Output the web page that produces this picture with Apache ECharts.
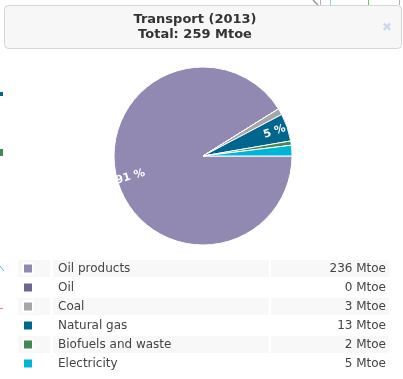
<!DOCTYPE html>
<html><head><meta charset="utf-8">
<script src="https://cdn.jsdelivr.net/npm/echarts@6/dist/echarts.min.js"></script>
<style>html,body{margin:0;padding:0;background:#fff}#c{width:403px;height:379px}</style>
</head><body><div id="c"></div>
<script>
const titleLines = ['Transport (2013)', 'Total: 259 Mtoe'];
const categories = ['Oil products', 'Oil', 'Coal', 'Natural gas', 'Biofuels and waste', 'Electricity'];
const values = [236, 0, 3, 13, 2, 5];
const unit = 'Mtoe';
const colors = ['#9189b1', '#6e6692', '#a6a6a6', '#00668e', '#438952', '#00b4d5'];

const FONT = '"DejaVu Sans", Verdana, sans-serif';
const total = values.reduce((a, b) => a + b, 0);
const data = categories.map((c, i) => ({ name: c, value: values[i], itemStyle: { color: colors[i] } }));
const valueOf = {};
categories.forEach((c, i) => valueOf[c] = values[i]);

const rowTop = 260, rowPitch = 19, rowH = 17;
const graphics = [
  { type: 'rect', shape: { x: 4.5, y: 5.5, width: 397, height: 43, r: 4 }, style: { fill: '#f7f7f7', stroke: '#d6d6d6', lineWidth: 1 }, z: 0 },
  { type: 'text', x: 195, y: 20, style: { text: titleLines[0], font: 'bold 13px ' + FONT, fill: '#333', textAlign: 'center', textVerticalAlign: 'middle' }, z: 1 },
  { type: 'text', x: 195, y: 35, style: { text: titleLines[1], font: 'bold 13px ' + FONT, fill: '#333', textAlign: 'center', textVerticalAlign: 'middle' }, z: 1 },
  { type: 'text', x: 387, y: 28, style: { text: '\u2716', font: '12px ' + FONT, fill: '#cdd9ec', textAlign: 'center', textVerticalAlign: 'middle' }, z: 1 },
  // background chart fragments
  { type: 'line', shape: { x1: 313, y1: 0, x2: 318, y2: 5 }, style: { stroke: '#999', lineWidth: 1.5 } },
  { type: 'line', shape: { x1: 320.5, y1: 0, x2: 320.5, y2: 5 }, style: { stroke: '#b0aacb', lineWidth: 1 } },
  { type: 'line', shape: { x1: 330.5, y1: 0, x2: 330.5, y2: 5 }, style: { stroke: '#7fd8ea', lineWidth: 1 } },
  { type: 'line', shape: { x1: 368.5, y1: 0, x2: 368.5, y2: 5 }, style: { stroke: '#6cc46c', lineWidth: 1 } },
  { type: 'line', shape: { x1: 399.5, y1: 0, x2: 399.5, y2: 5 }, style: { stroke: '#b0aacb', lineWidth: 1 } },
  { type: 'rect', shape: { x: 0, y: 92, width: 3, height: 4 }, style: { fill: '#00668e' } },
  { type: 'rect', shape: { x: 0, y: 149, width: 3, height: 7 }, style: { fill: '#438952' } },
  { type: 'line', shape: { x1: 0, y1: 266, x2: 4, y2: 271 }, style: { stroke: '#3fc6e0', lineWidth: 1 } },
  { type: 'line', shape: { x1: 0, y1: 308.5, x2: 3, y2: 308.5 }, style: { stroke: '#ff6fb0', lineWidth: 1 } }
];
categories.forEach((c, i) => {
  if (i % 2 === 0) {
    graphics.push({ type: 'rect', shape: { x: 18, y: rowTop + rowPitch * i, width: 32, height: rowH }, style: { fill: '#f8f8f8' }, z: -1 });
  }
});

const cell = (w, extra) => Object.assign({ width: w, height: rowH, lineHeight: rowH, fontFamily: FONT, fontSize: 12, color: '#444' }, extra || {});

const chart = echarts.init(document.getElementById('c'), null, { renderer: 'canvas' });
chart.setOption({
  animation: false,
  backgroundColor: '#fff',
  graphic: graphics,
  legend: {
    orient: 'vertical', left: 22, top: rowTop, padding: 0, itemGap: rowPitch - rowH,
    itemWidth: 10, itemHeight: 10, icon: 'rect', selectedMode: false,
    data: categories,
    formatter: name => {
      const i = categories.indexOf(name);
      const odd = i % 2 === 0 ? 'A' : 'B';
      return '{s| }{n' + odd + '|' + name + '}{g| }{v' + odd + '|' + valueOf[name] + ' ' + unit + '}';
    },
    textStyle: {
      fontFamily: FONT, fontSize: 12, color: '#444', lineHeight: rowH, height: rowH,
      rich: {
        s: cell(15),
        nA: cell(211, { padding: [0, 0, 0, 5], backgroundColor: '#f8f8f8' }),
        nB: cell(211, { padding: [0, 0, 0, 5] }),
        g: cell(2),
        vA: cell(115, { padding: [0, 3, 0, 0], align: 'right', backgroundColor: '#f8f8f8' }),
        vB: cell(115, { padding: [0, 3, 0, 0], align: 'right' })
      }
    }
  },
  series: [
    {
      type: 'pie', center: [203, 156], radius: [0, 89], startAngle: 0, clockwise: true,
      silent: true, label: { show: false }, labelLine: { show: false },
      itemStyle: { borderColor: '#fff', borderWidth: 1 },
      data: data
    },
    {
      type: 'pie', center: [203, 156], radius: [56, 89], startAngle: 0, clockwise: true,
      silent: true, legendHoverLink: false,
      itemStyle: { color: 'rgba(0,0,0,0)', borderWidth: 0 },
      label: {
        show: true, position: 'inside', rotate: 'radial',
        fontFamily: FONT, fontSize: 11, fontWeight: 'bold', color: '#fff',
        formatter: p => p.value / total >= 0.045 ? Math.round(p.value / total * 100) + ' %' : ''
      },
      labelLine: { show: false },
      data: categories.map((c, i) => ({ name: c + ' ', value: values[i] }))
    }
  ]
});
</script></body></html>
